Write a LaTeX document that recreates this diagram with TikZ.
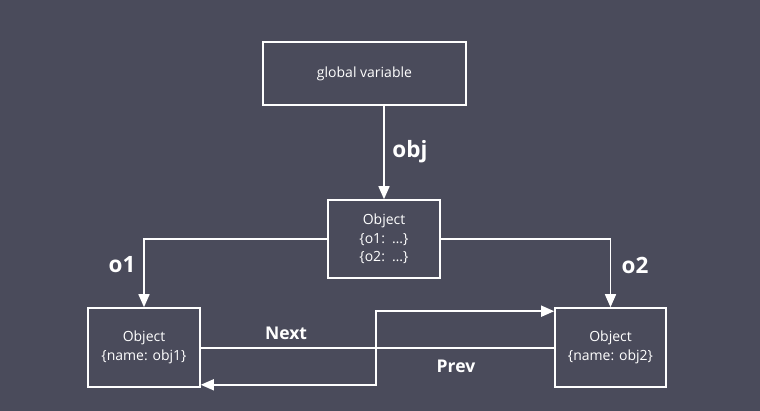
\documentclass[tikz,border=0pt]{standalone}
\usepackage{fontspec}
\setmainfont{Open Sans}
\usepackage{tikz}
\usetikzlibrary{arrows.meta,calc,positioning}

\definecolor{slate}{HTML}{4A4B5B}

\begin{document}
\begin{tikzpicture}[
    x=1pt, y=1pt,
    font=\fontsize{14}{18.5}\selectfont,
    box/.style={draw=white, line width=1.6pt, text=white, align=center, inner sep=0pt},
    link/.style={draw=white, line width=1.6pt, -{Triangle[length=13pt,width=11pt]}},
    lbl/.style={text=white, font=\fontsize{22.5}{24}\selectfont\bfseries},
    lblsmall/.style={text=white, font=\fontsize{17.5}{20}\selectfont\bfseries}
]
\fill[slate] (0,0) rectangle (760,411);
\useasboundingbox (0,0) rectangle (760,411);

\node[box, minimum width=203pt, minimum height=63pt] (global) at (364.5,337.5) {global variable};
\node[box, minimum width=112pt, minimum height=78pt] (holder) at (384,172)
    {Object\\\{o1:\ \ …\}\\\{o2:\ \ …\}};
\node[box, minimum width=112pt, minimum height=79pt] (first) at (144,63.5)
    {Object\\\{name: obj1\}};
\node[box, minimum width=111pt, minimum height=79pt] (second) at (610.5,63.5)
    {Object\\\{name: obj2\}};

\coordinate (cross) at (376,63);

% references
\draw[link] (holder.north |- global.south) -- (holder.north);
\draw[link] (holder.west) -| (first.north);
\draw[link] (holder.east) -| (second.north);

% next / prev
\draw[link] (first.east |- cross) -- (cross) |- ($(second.north west)+(0,-4)$);
\draw[link] (second.west |- cross) -- (cross) |- ($(first.south east)+(0,3)$);

\node[lbl] at (410,259) {obj};
\node[lbl] at (122,146) {o1};
\node[lbl] at (635,146) {o2};
\node[lblsmall] at (286,78) {Next};
\node[lblsmall] at (456,45) {Prev};
\end{tikzpicture}
\end{document}
